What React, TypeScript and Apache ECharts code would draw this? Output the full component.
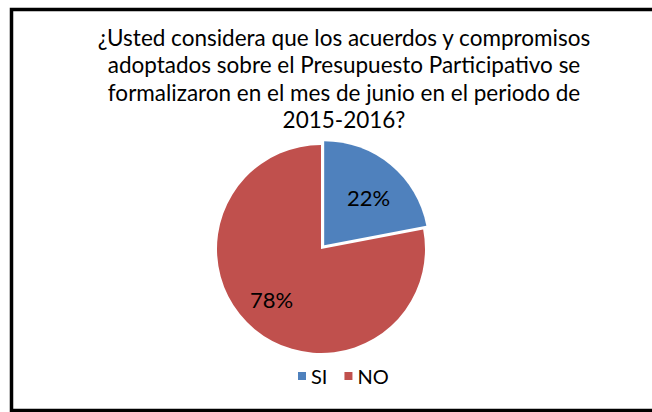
import React, { useEffect, useRef } from "react";
import * as echarts from "echarts";

const titleLines = [
  "¿Usted considera que los acuerdos y compromisos",
  "adoptados sobre el Presupuesto Participativo se",
  "formalizaron en el mes de junio en el periodo de",
  "2015-2016?",
];
const categories = ["SI", "NO"];
const values = [22, 78];
const colors = ["#4F81BD", "#C0504D"];

const FONT = "Lato";
const labelOffsets = [
  [1, 5],
  [-3, -6],
];

export default function App() {
  const ref = useRef<HTMLDivElement>(null);
  useEffect(() => {
    if (!ref.current) return;
    const chart = echarts.init(ref.current, undefined, { renderer: "svg" });
    const data = categories.map((name, i) => ({
      name,
      value: values[i],
      itemStyle: { color: colors[i] },
      selected: i === 0,
    }));
    chart.setOption({
      animation: false,
      backgroundColor: "#ffffff",
      title: {
        text: titleLines.join("\n"),
        left: 339,
        top: 19,
        textAlign: "center",
        textStyle: {
          fontFamily: FONT,
          fontSize: 22.5,
          fontWeight: "normal",
          color: "#000",
          lineHeight: 27.3,
        },
      },
      legend: {
        data: categories,
        left: 293,
        top: 361,
        icon: "rect",
        itemWidth: 8,
        itemHeight: 8,
        itemGap: 17,
        textStyle: { fontFamily: FONT, fontSize: 20, color: "#000" },
        selectedMode: false,
      },
      graphic: [
        {
          type: "rect",
          shape: { x: 11.5, y: 9.5, width: 660, height: 401 },
          style: { fill: "none", stroke: "#000", lineWidth: 3.5 },
          silent: true,
          z: 100,
        },
      ],
      series: [
        {
          type: "pie",
          center: [321, 249],
          radius: [0, 104],
          startAngle: 90,
          clockwise: true,
          selectedMode: "single",
          selectedOffset: 5,
          data,
          label: { show: false },
          labelLine: { show: false },
          itemStyle: { borderColor: "#fff", borderWidth: 0 },
          emphasis: { disabled: true },
        },
        {
          type: "pie",
          center: [321, 249],
          radius: [0, 140],
          startAngle: 90,
          clockwise: true,
          silent: true,
          data: categories.map((name, i) => ({
            name,
            value: values[i],
            label: { offset: labelOffsets[i] },
          })),
          itemStyle: { color: "rgba(0,0,0,0)" },
          label: {
            show: true,
            position: "inside",
            formatter: "{d}%",
            fontFamily: FONT,
            fontSize: 22,
            color: "#000",
          },
          labelLine: { show: false },
          emphasis: { disabled: true },
          z: 5,
        },
      ],
    });
    return () => chart.dispose();
  }, []);
  return (
    <div
      ref={ref}
      style={{ position: "fixed", left: 0, top: 0, width: 652, height: 412 }}
    />
  );
}
